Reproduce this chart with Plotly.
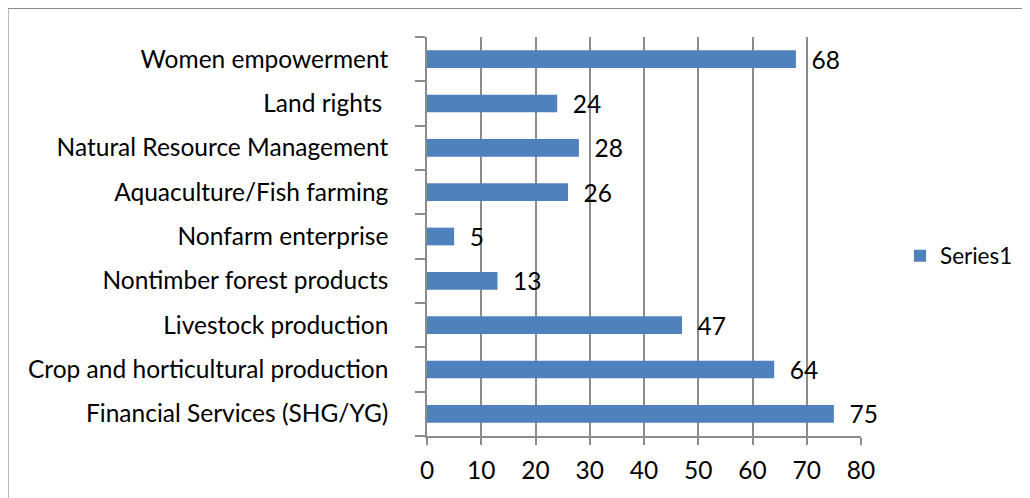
import plotly.graph_objects as go

# categories listed bottom to top (as drawn on the y axis)
categories = [
    "Financial Services (SHG/YG)",
    "Crop and horticultural production",
    "Livestock production",
    "Nontimber forest products",
    "Nonfarm enterprise",
    "Aquaculture/Fish farming",
    "Natural Resource Management",
    "Land rights ",
    "Women empowerment",
]
values = [75, 64, 47, 13, 5, 26, 28, 24, 68]
series_name = "Series1"
x_ticks = [0, 10, 20, 30, 40, 50, 60, 70, 80]

# page has an 8px body margin, so the figure is a bit smaller than the window
W, H = 1022, 490
L, R, T, B = 419, 169, 29, 62
pw, ph = W - L - R, H - T - B

def px_x(v):
    return (v - L) / pw

def px_y(v):
    return (H - B - v) / ph

FONT = "Lato"
FS = 24.5
GRID = "#8c8c8c"

fig = go.Figure()
fig.add_trace(go.Bar(
    x=values, y=categories, orientation="h",
    name=series_name,
    marker=dict(color="#4F81BD", line=dict(width=0)),
    width=0.4,
    texttemplate="\u00a0\u00a0%{x}",
    textposition="outside",
    constraintext="none",
    textfont=dict(family=FONT, size=FS, color="black"),
    cliponaxis=False,
    showlegend=True,
))

fig.update_layout(
    width=W, height=H,
    margin=dict(l=L, r=R, t=T, b=B, autoexpand=False),
    paper_bgcolor="white",
    plot_bgcolor="white",
    font=dict(family=FONT, size=FS, color="black"),
    legend=dict(
        x=px_x(892), y=px_y(248), xanchor="left", yanchor="middle",
        font=dict(family=FONT, size=FS - 2, color="black"),
        bgcolor="rgba(0,0,0,0)",
        itemwidth=30,
    ),
    xaxis=dict(
        range=[0, 80], tickvals=x_ticks,
        automargin=False,
        showgrid=True, gridcolor=GRID, gridwidth=1.5,
        zeroline=False,
        showline=True, linecolor=GRID, linewidth=1.5,
        ticks="outside", ticklen=7, tickcolor=GRID, tickwidth=1.5,
        ticklabelstandoff=5,
        tickfont=dict(family=FONT, size=FS, color="black"),
    ),
    yaxis=dict(
        type="category",
        categoryorder="array", categoryarray=categories,
        automargin=False,
        showgrid=False, zeroline=False,
        showline=True, linecolor=GRID, linewidth=1.5,
        ticks="outside", ticklen=10, tickcolor=GRID, tickwidth=1.5,
        tickson="boundaries",
        ticklabelstandoff=32,
        tickfont=dict(family=FONT, size=FS, color="black"),
    ),
    bargap=0.6,
)

# outer chart border
fig.add_shape(
    type="rect", xref="paper", yref="paper",
    x0=px_x(0), x1=px_x(1016), y0=px_y(520), y1=px_y(0.5),
    line=dict(color="#8c8c8c", width=1.2), fillcolor="rgba(0,0,0,0)",
    layer="below",
)

fig.write_html("out.html")
